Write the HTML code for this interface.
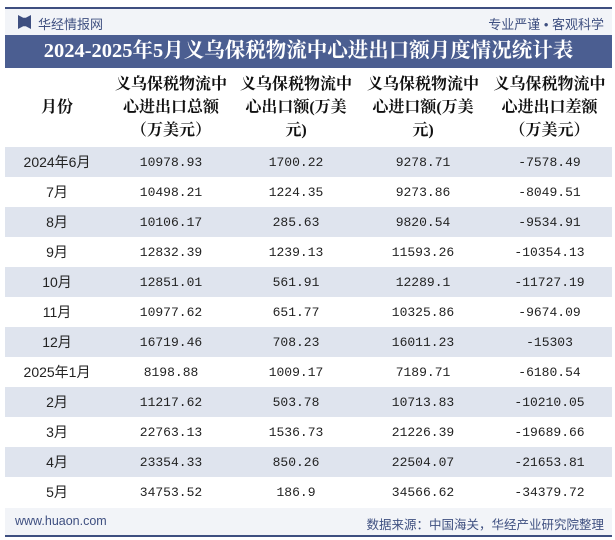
<!DOCTYPE html>
<html><head><meta charset="utf-8"><style>
body{margin:0;width:615px;height:540px;background:#fff;font-family:"Liberation Sans","Noto Sans CJK SC",sans-serif;position:relative;overflow:hidden}
.abs{position:absolute}
#topbar{left:5px;top:7px;width:607px;height:2px;background:#3e4f80}
#brandbar{left:5px;top:9px;width:607px;height:26px;background:#f2f4f8}
#title{left:5px;top:35px;width:607px;height:33px;background:#4b5e91;color:#fff;font:bold 20.5px "Liberation Serif","Noto Serif CJK SC",serif;text-align:center;line-height:33px}
table{position:absolute;left:5px;top:68px;width:607px;border-collapse:collapse;table-layout:fixed}
th{height:79px;font:bold 16px "Liberation Serif","Noto Serif CJK SC",serif;color:#111;line-height:23px;padding:0;text-align:center}
td{height:30px;padding:0;text-align:center;font:13px "Liberation Mono","Noto Sans CJK SC",monospace;color:#222}
td.m{font-family:"Liberation Sans","Noto Sans CJK SC",sans-serif;font-size:14px}
tr.s td{background:#dfe4ee}
#footer{left:5px;top:508px;width:607px;height:27px;background:#f2f4f8}
#botbar{left:5px;top:535px;width:607px;height:2px;background:#3e4f80}
</style></head><body>
<div class="abs" id="topbar"></div>
<div class="abs" id="brandbar">
 <div class="abs" style="left:13px;top:6px;width:13px;height:14px;background:#3e4f80;clip-path:polygon(0 0,40% 20%,60% 20%,100% 0,100% 100%,60% 80%,40% 80%,0 100%)"></div>
 <div class="abs" style="left:33px;top:5px;font-size:13px;color:#3e4f80">华经情报网</div>
 <div class="abs" style="right:8px;top:5px;font-size:13px;color:#3e4f80">专业严谨 • 客观科学</div>
</div>
<div class="abs" id="title">2024-2025年5月义乌保税物流中心进出口额月度情况统计表</div>
<table>
<colgroup><col style="width:104px"><col style="width:124px"><col style="width:126px"><col style="width:128px"><col style="width:125px"></colgroup>
<tr><th>月份</th><th>义乌保税物流中<br>心进出口总额<br>（万美元）</th><th>义乌保税物流中<br>心出口额(万美<br>元)</th><th>义乌保税物流中<br>心进口额(万美<br>元)</th><th>义乌保税物流中<br>心进出口差额<br>（万美元）</th></tr>
<tbody id="tb"></tbody>
</table>
<div class="abs" id="footer">
 <div class="abs" style="left:10px;top:6px;font-size:12.5px;color:#3e4f80">www.huaon.com</div>
 <div class="abs" style="right:8px;top:6px;font-size:12.5px;color:#3e4f80">数据来源：中国海关，华经产业研究院整理</div>
</div>
<div class="abs" id="botbar"></div>
<script>
const months=["2024年6月","7月","8月","9月","10月","11月","12月","2025年1月","2月","3月","4月","5月"];
const total=["10978.93","10498.21","10106.17","12832.39","12851.01","10977.62","16719.46","8198.88","11217.62","22763.13","23354.33","34753.52"];
const exportVals=["1700.22","1224.35","285.63","1239.13","561.91","651.77","708.23","1009.17","503.78","1536.73","850.26","186.9"];
const importVals=["9278.71","9273.86","9820.54","11593.26","12289.1","10325.86","16011.23","7189.71","10713.83","21226.39","22504.07","34566.62"];
const balance=["-7578.49","-8049.51","-9534.91","-10354.13","-11727.19","-9674.09","-15303","-6180.54","-10210.05","-19689.66","-21653.81","-34379.72"];
const tb=document.getElementById('tb');
months.forEach((m,i)=>{
 const tr=document.createElement('tr');
 if(i%2===0)tr.className='s';
 
 
 [m,total[i],exportVals[i],importVals[i],balance[i]].forEach((v,j)=>{
  const td=document.createElement('td');
  if(j===0)td.className='m';
  td.textContent=v;
  
  
  tr.appendChild(td);
 });
 tb.appendChild(tr);
});
</script>
</body></html>
